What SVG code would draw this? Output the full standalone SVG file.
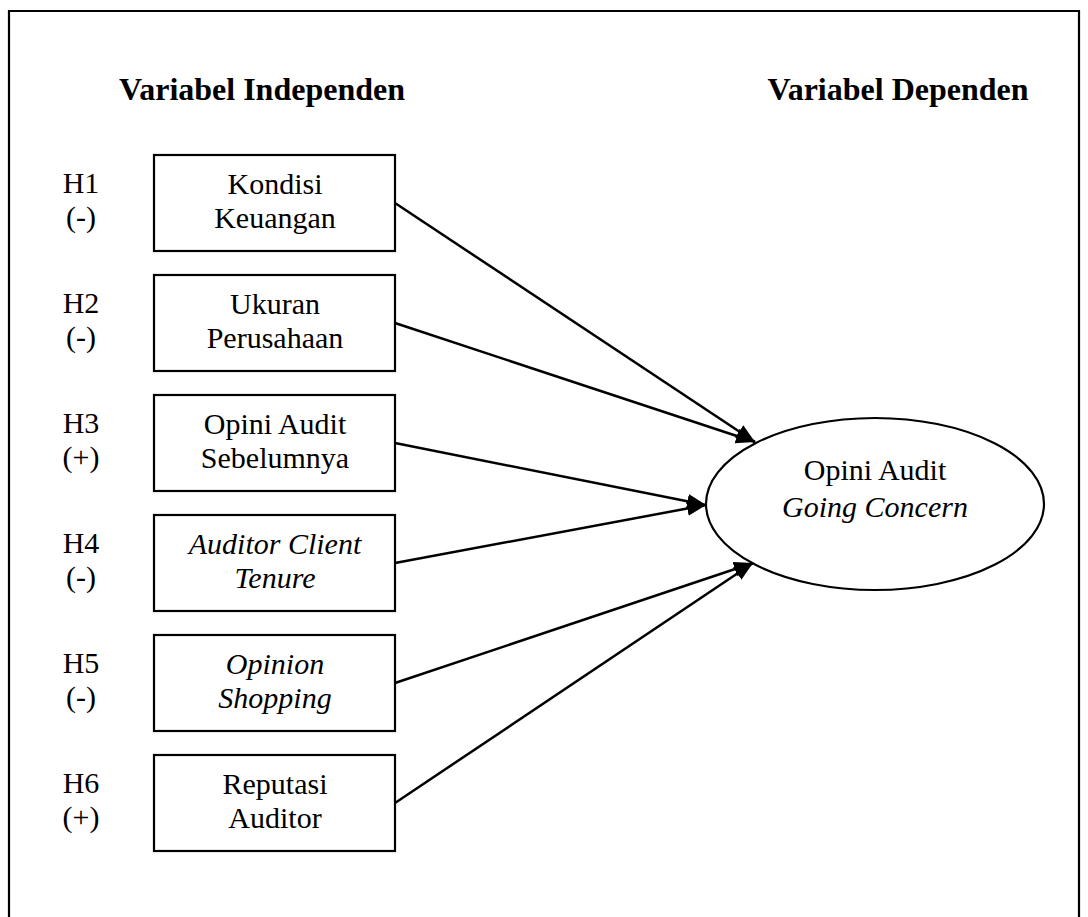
<svg xmlns="http://www.w3.org/2000/svg" width="1088" height="917" viewBox="0 0 1088 917">
<style>
text{font-family:"Liberation Serif","Times New Roman",serif;font-size:30px;fill:#000;text-anchor:middle}
.h{font-weight:bold;font-size:32px}
.i{font-style:italic}
.box{fill:#fff;stroke:#000;stroke-width:2.2}
.edge{stroke:#000;stroke-width:2.5;fill:none;marker-end:url(#arr)}
</style>
<defs>
<marker id="arr" markerUnits="userSpaceOnUse" markerWidth="20" markerHeight="18" refX="19" refY="9" orient="auto">
<path d="M0,1.5 L19,9 L0,16.5 z" fill="#000"/>
</marker>
</defs>
<rect width="1088" height="917" fill="#fff"/>
<path d="M9,930 V11 H1079 V930" fill="none" stroke="#000" stroke-width="2.2"/>
<text class="h" x="262" y="100">Variabel Independen</text>
<text class="h" x="898" y="100">Variabel Dependen</text>
<g id="connectors">
<line class="edge" x1="395" y1="203" x2="755" y2="442"/>
<line class="edge" x1="395" y1="323" x2="755" y2="442"/>
<line class="edge" x1="395" y1="443" x2="706" y2="505"/>
<line class="edge" x1="395" y1="563" x2="706" y2="505"/>
<line class="edge" x1="395" y1="683" x2="753" y2="563"/>
<line class="edge" x1="395" y1="803" x2="753" y2="563"/>
</g>
<g id="n1"><text x="81" y="193">H1</text><text x="81" y="227">(-)</text><rect class="box" x="154" y="155" width="241" height="96"/><text x="275" y="194">Kondisi</text><text x="275" y="228">Keuangan</text></g>
<g id="n2"><text x="81" y="313">H2</text><text x="81" y="347">(-)</text><rect class="box" x="154" y="275" width="241" height="96"/><text x="275" y="314">Ukuran</text><text x="275" y="348">Perusahaan</text></g>
<g id="n3"><text x="81" y="433">H3</text><text x="81" y="467">(+)</text><rect class="box" x="154" y="395" width="241" height="96"/><text x="275" y="434">Opini Audit</text><text x="275" y="468">Sebelumnya</text></g>
<g id="n4"><text x="81" y="553">H4</text><text x="81" y="587">(-)</text><rect class="box" x="154" y="515" width="241" height="96"/><text class="i" x="275" y="554">Auditor Client</text><text class="i" x="275" y="588">Tenure</text></g>
<g id="n5"><text x="81" y="673">H5</text><text x="81" y="707">(-)</text><rect class="box" x="154" y="635" width="241" height="96"/><text class="i" x="275" y="674">Opinion</text><text class="i" x="275" y="708">Shopping</text></g>
<g id="n6"><text x="81" y="793">H6</text><text x="81" y="827">(+)</text><rect class="box" x="154" y="755" width="241" height="96"/><text x="275" y="794">Reputasi</text><text x="275" y="828">Auditor</text></g>
<g id="target"><ellipse cx="875" cy="504" rx="169" ry="86" fill="#fff" stroke="#000" stroke-width="2.2"/><text x="875" y="480">Opini Audit</text><text class="i" x="875" y="517">Going Concern</text></g>
</svg>
